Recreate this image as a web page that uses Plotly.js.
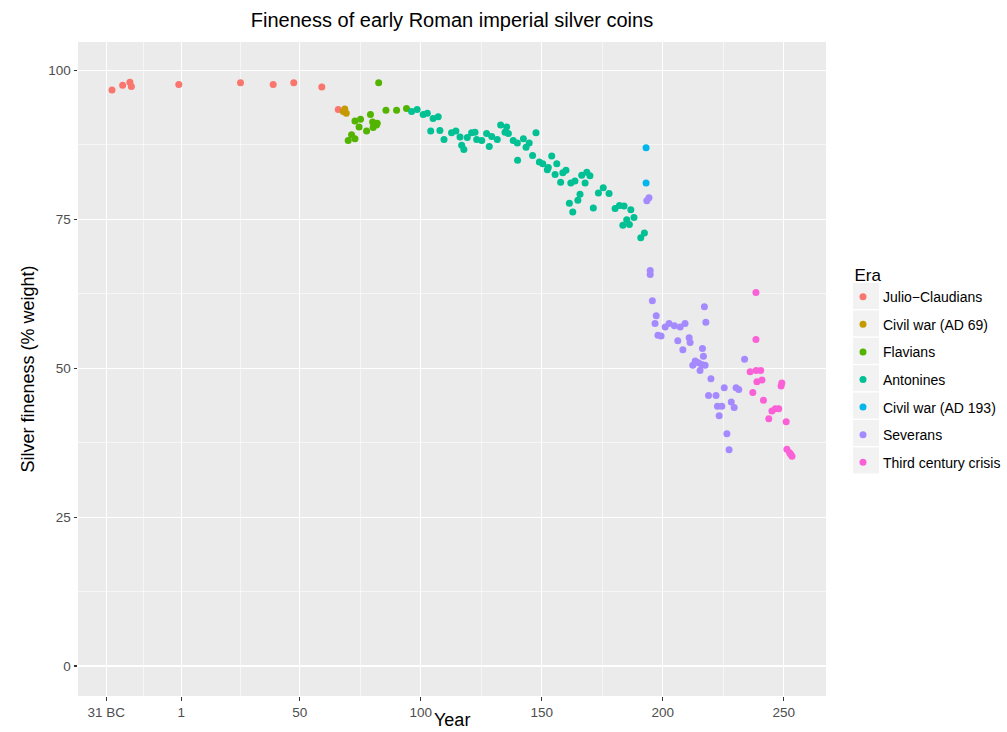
<!DOCTYPE html>
<html>
<head>
<meta charset="utf-8">
<script src="https://cdn.plot.ly/plotly-3.0.1.min.js"></script>
<style>html,body{margin:0;padding:0;background:#fff;}#chart{width:1007px;height:732px;}</style>
</head>
<body>
<div id="chart"></div>
<script>
// ---- data ----
const eras = ['Julio\u2212Claudians','Civil war (AD 69)','Flavians','Antonines','Civil war (AD 193)','Severans','Third century crisis'];
const eraColors = ['#F8766D','#C49A00','#53B400','#00C094','#00B6EB','#A58AFF','#FB61D7'];

const xTickVals = [-30, 1, 50, 100, 150, 200, 250];
const xTickText = ['31 BC', '1', '50', '100', '150', '200', '250'];
const xMinorVals = [-14.5, 25.5, 75, 125, 175, 225];
const yTickVals = [0, 25, 50, 75, 100];
const yMinorVals = [12.5, 37.5, 62.5, 87.5];

const jcYear = [-27.6,-23.2,-20.2,-19.6,0.0,25.5,39.0,47.5,59.1,65.9];
const jcFine = [96.7,97.5,98.0,97.3,97.6,97.9,97.6,97.9,97.2,93.4];

const cw69Year = [68.0,68.6,69.2];
const cw69Fine = [93.1,93.5,92.8];

const flYear = [70.0,71.4,72.8,72.8,74.5,75.1,77.6,79.2,80.1,80.3,81.7,82.0,82.6,85.6,90.0,94.1];
const flFine = [88.2,89.2,88.5,91.5,90.5,91.8,89.8,92.6,91.3,90.4,90.8,91.1,97.9,93.3,93.3,93.6];

const anYear = [96.2,98.5,101.0,102.7,105.1,107.2,104.1,107.9,109.6,112.7,114.5,116.2,116.9,117.8,119.2,121.0,122.4,123.1,125.2,127.2,128.3,129.3,131.6,133.0,135.5,134.8,136.2,138.2,139.9,142.4,143.5,144.8,147.6,140.0,146.2,149.0,150.4,154.1,152.3,152.7,156.2,155.5,157.8,158.7,160.0,162.0,163.7,166.5,168.6,169.9,167.9,165.8,164.9,161.4,162.8,173.4,175.4,177.8,171.3,180.3,182.1,184.0,186.8,185.1,186.2,183.5,188.1,190.9,192.4];
const anFine = [93.1,93.4,92.6,92.8,91.9,92.2,89.8,89.9,88.4,89.5,89.8,88.8,87.4,86.7,88.7,89.5,89.6,88.4,88.2,89.4,87.2,88.9,88.4,90.8,90.5,89.6,89.4,88.2,87.8,88.5,87.1,87.8,89.5,84.9,85.7,84.6,84.3,85.6,83.3,83.7,84.3,82.5,81.2,82.8,83.2,81.1,81.4,82.4,82.9,82.3,81.1,79.2,78.2,77.7,76.2,79.4,80.3,79.3,76.9,76.8,77.3,77.2,76.6,74.9,74.1,74.0,75.3,71.9,72.7];

const cw193Year = [193.1,193.1];
const cw193Fine = [87.0,81.1];

const sevYear = [193.4,194.3,194.8,194.8,195.7,197.3,196.8,198.0,199.3,201.0,202.6,204.8,207.2,209.2,206.2,208.3,210.9,211.3,217.2,217.8,216.4,216.8,213.4,214.7,216.1,212.4,217.5,215.4,219.9,225.4,230.3,231.4,218.9,222.0,222.6,224.4,228.3,229.5,223.3,226.5,227.4,233.8];
const sevFine = [78.1,78.6,66.4,65.7,61.3,58.8,57.5,55.5,55.4,56.9,57.5,57.1,56.9,57.5,54.6,53.1,55.1,54.3,60.3,57.7,53.3,52.0,51.2,50.9,50.6,50.5,50.5,49.6,48.2,46.7,46.7,46.4,45.4,45.4,43.6,43.6,44.3,43.4,42.0,39.0,36.3,51.5];

const tcYear = [238.5,238.5,236.1,238.6,240.5,238.9,241.0,237.2,241.6,245.1,246.5,247.9,243.8,249.2,248.9,251.0,251.3,252.4,252.9,253.4];
const tcFine = [62.7,54.8,49.4,49.6,49.6,47.7,48.0,45.9,44.6,42.8,43.2,43.2,41.5,47.5,47.0,41.0,36.4,35.8,35.5,35.2];

const eraYears = [jcYear, cw69Year, flYear, anYear, cw193Year, sevYear, tcYear];
const eraFines = [jcFine, cw69Fine, flFine, anFine, cw193Fine, sevFine, tcFine];

// ---- build chart ----
const FONT = '"Liberation Sans", Arial, Helvetica, sans-serif';
const traces = eras.map((name, i) => ({
  type: 'scatter',
  mode: 'markers',
  name: name,
  legendgroup: 'g' + i,
  x: eraYears[i],
  y: eraFines[i],
  marker: {color: eraColors[i], size: 7, line: {width: 0}},
  hoverinfo: 'x+y+name'
}));

// plot-area geometry (px) used for legend key backgrounds
const M = {l: 78, r: 181, t: 42, b: 36, autoexpand: false};
const W = 1007, H = 732;
const pw = W - M.l - M.r, ph = H - M.t - M.b;
const px2x = p => (p - M.l) / pw;
const py2y = p => (H - M.b - p) / ph;

const shapes = eras.map((_, i) => {
  const cy = 296 + 27.4 * i;
  return {
    type: 'rect', xref: 'paper', yref: 'paper', layer: 'below',
    x0: px2x(853), x1: px2x(879), y0: py2y(cy + 13), y1: py2y(cy - 13),
    fillcolor: '#F2F2F2', line: {width: 0}
  };
});

const axisCommon = {
  showline: false,
  zeroline: false,
  gridcolor: '#FFFFFF',
  gridwidth: 1.1,
  ticks: 'outside',
  ticklen: 3.5,
  tickwidth: 1.1,
  tickcolor: '#333333',
  tickfont: {family: FONT, size: 13.5, color: '#4D4D4D'},
  tickmode: 'array'
};

const layout = {
  width: W, height: H,
  margin: M,
  paper_bgcolor: '#FFFFFF',
  plot_bgcolor: '#EBEBEB',
  font: {family: FONT, color: '#000000'},
  title: {
    text: 'Fineness of early Roman imperial silver coins',
    font: {family: FONT, size: 20, color: '#000000'},
    x: 0.5, xref: 'paper', xanchor: 'center',
    y: 1 - 20 / H, yref: 'container', yanchor: 'middle'
  },
  xaxis: Object.assign({}, axisCommon, {
    range: [-41.65, 267.45],
    tickvals: xTickVals,
    ticktext: xTickText,
    minor: {tickmode: 'array', tickvals: xMinorVals, showgrid: true, gridcolor: '#FFFFFF', gridwidth: 0.55, ticks: ''}
  }),
  yaxis: Object.assign({}, axisCommon, {
    range: [-5.04, 104.75],
    tickvals: yTickVals,
    ticktext: yTickVals.map(String),
    minor: {tickmode: 'array', tickvals: yMinorVals, showgrid: true, gridcolor: '#FFFFFF', gridwidth: 0.55, ticks: ''},
    title: {text: 'Silver fineness (% weight)', font: {family: FONT, size: 18, color: '#000000'}, standoff: 8}
  }),
  annotations: [{
    text: 'Year', xref: 'paper', yref: 'paper',
    x: 0.5, xanchor: 'center',
    y: py2y(731.5), yanchor: 'bottom',
    showarrow: false,
    font: {family: FONT, size: 18, color: '#000000'}
  }],
  legend: {
    x: px2x(843), xanchor: 'left',
    y: py2y(259), yanchor: 'top',
    bgcolor: 'rgba(0,0,0,0)',
    font: {family: FONT, size: 14, color: '#000000'},
    title: {text: '\u00A0\u00A0Era', font: {family: FONT, size: 17, color: '#000000'}},
    traceorder: 'grouped',
    tracegroupgap: 6.4
  },
  shapes: shapes,
  showlegend: true
};

Plotly.newPlot('chart', traces, layout, {displayModeBar: false, staticPlot: true});
</script>
</body>
</html>
